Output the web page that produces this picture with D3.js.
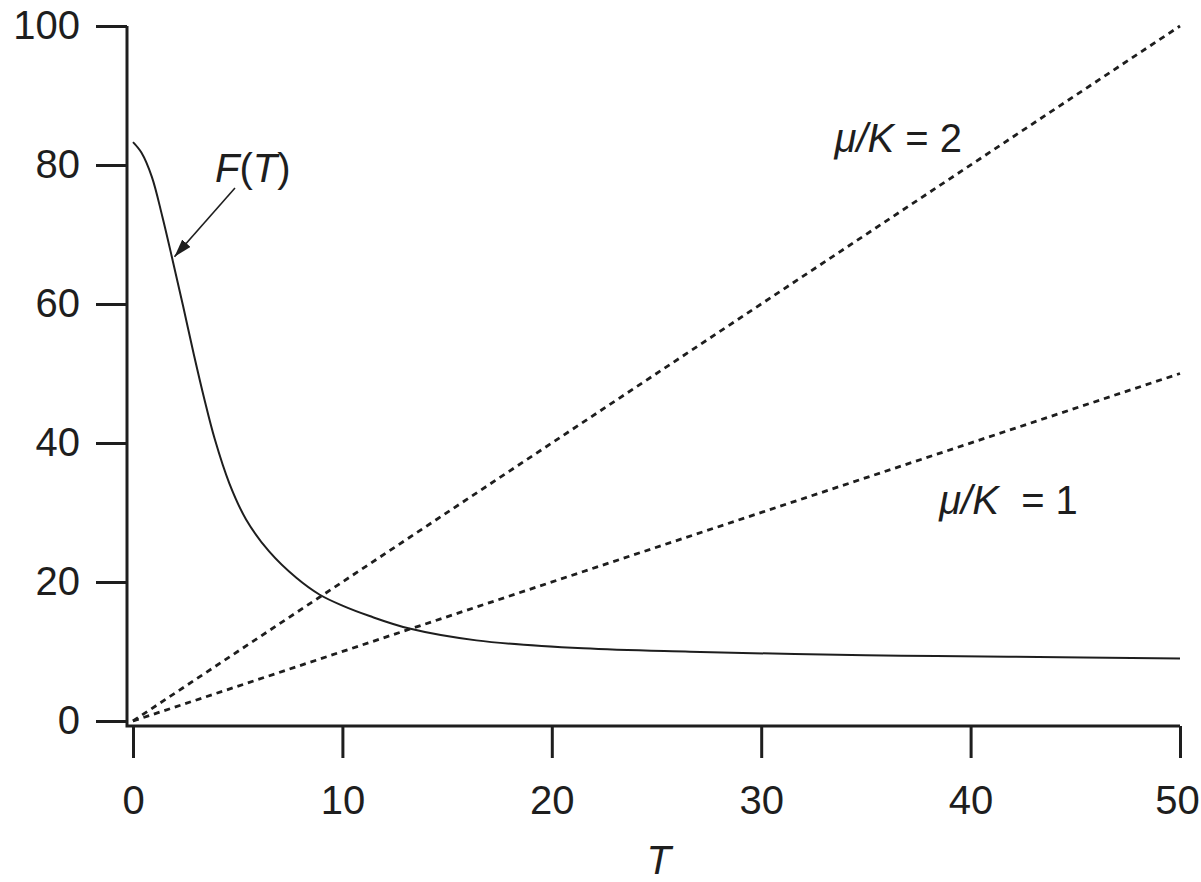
<!DOCTYPE html>
<html>
<head>
<meta charset="utf-8">
<script src="https://cdn.jsdelivr.net/npm/d3@7"></script>
<style>
  html, body { margin: 0; padding: 0; background: #fff; }
  svg { display: block; }
  text { font-family: "Liberation Sans", Arial, Helvetica, sans-serif; fill: #1e1e1e; }
</style>
</head>
<body>
<script>
// ---- data ----
const xTicks = [0, 10, 20, 30, 40, 50];
const yTicks = [0, 20, 40, 60, 80, 100];

// F(T) curve
const fT = [0, 0.4, 0.9, 1.4, 1.9, 2.4, 2.9, 3.4, 3.9, 4.6, 5.4, 6.5, 7.8, 8.9, 10, 11.3, 13.2, 16.4, 21.5, 26.6, 31.6, 36.7, 41.8, 50];
const fV = [83.3, 81.8, 78.3, 72.6, 66.2, 59.6, 52.8, 46.4, 40.6, 34.2, 29.0, 24.4, 20.6, 18.2, 16.6, 15.1, 13.3, 11.6, 10.45, 9.97, 9.64, 9.4, 9.25, 9.0];

// straight dashed lines mu/K = 2 and mu/K = 1
const lineT = [0, 50];
const mu2V = [0, 100];
const mu1V = [0, 50];

// ---- chart ----
const W = 1201, H = 882;
const svg = d3.select("body").append("svg").attr("width", W).attr("height", H);

const x = d3.scaleLinear().domain([0, 50]).range([133, 1180]);
const y = d3.scaleLinear().domain([0, 100]).range([721, 26]);

const ink = "#1e1e1e";

// axes
const xAxisY = 726, yAxisX = 127;
const gx = svg.append("g").attr("transform", `translate(0,${xAxisY})`)
  .call(d3.axisBottom(x).tickValues(xTicks).tickSize(32).tickSizeOuter(0).tickPadding(28).tickFormat(d3.format("d")));
const gy = svg.append("g").attr("transform", `translate(${yAxisX},0)`)
  .call(d3.axisLeft(y).tickValues(yTicks).tickSize(31).tickSizeOuter(0).tickPadding(16).tickFormat(d3.format("d")));
[gx, gy].forEach(g => {
  g.select(".domain").remove();
  g.selectAll(".tick line").attr("stroke", ink).attr("stroke-width", 3);
  g.selectAll(".tick text").attr("font-size", 40).attr("fill", ink)
    .attr("font-family", '"Liberation Sans", Arial, Helvetica, sans-serif');
});
// keep the last x label inside the page edge
gx.selectAll(".tick text").filter(d => d === 50).attr("dx", -3);

svg.append("path")
  .attr("d", `M${yAxisX},${y(100)}V${xAxisY}H${x(50)}`)
  .attr("fill", "none").attr("stroke", ink).attr("stroke-width", 3)
  .attr("stroke-linejoin", "miter");

// dashed lines
const lineGen = d3.line().x(d => x(d[0])).y(d => y(d[1]));
[mu2V, mu1V].forEach(vals => {
  svg.append("path")
    .datum(lineT.map((t, i) => [t, vals[i]]))
    .attr("d", lineGen)
    .attr("fill", "none").attr("stroke", ink)
    .attr("stroke-width", 2.8).attr("stroke-dasharray", "6,5");
});

// F(T) curve
svg.append("path")
  .datum(fT.map((t, i) => [t, fV[i]]))
  .attr("d", d3.line().x(d => x(d[0])).y(d => y(d[1])).curve(d3.curveCatmullRom.alpha(0.5)))
  .attr("fill", "none").attr("stroke", ink).attr("stroke-width", 2);

// arrow annotation
const defs = svg.append("defs");
defs.append("marker").attr("id", "ah")
  .attr("viewBox", "0 0 18 11").attr("refX", 18).attr("refY", 5.5)
  .attr("markerWidth", 18).attr("markerHeight", 11)
  .attr("markerUnits", "userSpaceOnUse").attr("orient", "auto")
  .append("path").attr("d", "M0,0L18,5.5L0,11Z").attr("fill", ink);
svg.append("line")
  .attr("x1", x(4.87)).attr("y1", y(76.7))
  .attr("x2", x(1.98)).attr("y2", y(66.8))
  .attr("stroke", ink).attr("stroke-width", 1.6)
  .attr("marker-end", "url(#ah)");

// labels
function label(tx, ty, parts, anchor) {
  const t = svg.append("text").attr("x", tx).attr("y", ty)
    .attr("font-size", 40).attr("text-anchor", anchor || "start")
    .style("white-space", "pre");
  parts.forEach(p => {
    t.append("tspan").attr("font-style", p[1] ? "italic" : "normal").text(p[0]);
  });
  return t;
}
label(x(3.92), y(77.6), [["F", true], ["(", false], ["T", true], [")", false]]);
label(x(33.5), y(81.8), [["μ/K", true], [" = 2", false]]);
label(x(38.5), y(29.8), [["μ/K", true], ["  = 1", false]]);
label(x(25.1), 874, [["T", true]], "middle");
</script>
</body>
</html>
